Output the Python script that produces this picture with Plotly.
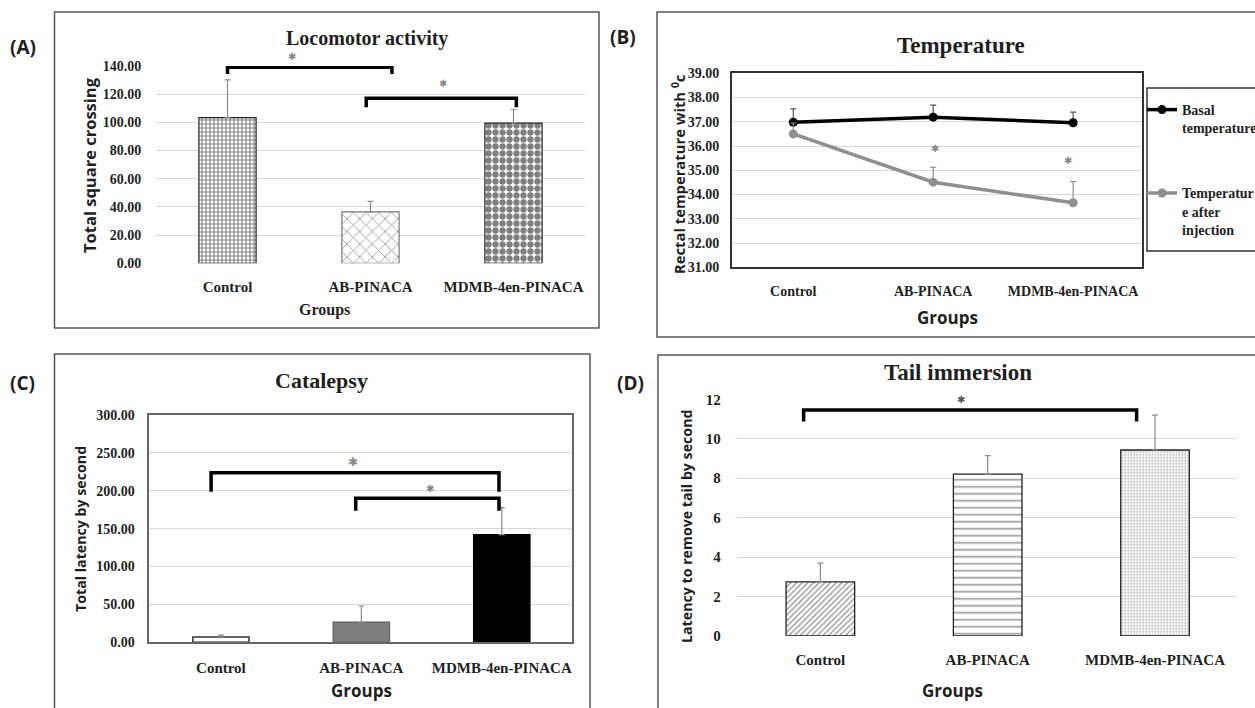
import plotly.graph_objects as go

W, H = 1255, 708

# ---------------- data ----------------
groups = ["Control", "AB-PINACA", "MDMB-4en-PINACA"]
xpos = [0, 1, 2]

# (A) Locomotor activity
loco_mean = [103.3, 36.5, 99.4]
loco_err = [26.8, 7.4, 9.9]
loco_tick = [0, 20, 40, 60, 80, 100, 120, 140]
loco_br_x0 = [0.0, 0.97]
loco_br_x1 = [1.15, 2.02]
loco_br_top = [139.1, 117.1]
loco_br_leg = [134.3, 110.7]
loco_star_x = [0.45, 1.51]
loco_star_y = [146.6, 127.7]

# (B) Temperature
basal_mean = [36.98, 37.19, 36.96]
basal_err = [0.55, 0.50, 0.44]
after_mean = [36.50, 34.51, 33.66]
after_err = [0.45, 0.61, 0.87]
temp_tick = [31, 32, 33, 34, 35, 36, 37, 38, 39]
temp_star_x = [1.01, 1.96]
temp_star_y = [35.91, 35.42]

# (C) Catalepsy
cata_mean = [7.0, 26.4, 142.0]
cata_err = [2.6, 21.5, 35.7]
cata_tick = [0, 50, 100, 150, 200, 250, 300]
cata_br_x0 = [-0.07, 0.96]
cata_br_x1 = [1.98, 1.98]
cata_br_top = [223.8, 190.0]
cata_br_leg = [198.8, 173.7]
cata_star_x = [0.94, 1.49]
cata_star_y = [238.4, 202.7]

# (D) Tail immersion
tail_mean = [2.74, 8.21, 9.43]
tail_err = [0.95, 0.93, 1.77]
tail_tick = [0, 2, 4, 6, 8, 10, 12]
tail_br_x0 = [-0.10]
tail_br_x1 = [1.89]
tail_br_top = [11.46]
tail_br_leg = [10.87]
tail_star_x = [0.84]
tail_star_y = [12.0]

# ---------------- styles ----------------
SERIF = "Liberation Serif"
SANS = "Open Sans"
TXT = "#1f1f1f"
GRID = "#d9d9d9"
ERRC = "#8a8a8a"

YR_A = [0, 140]
YR_B = [31, 39]
YR_C = [0, 300]
YR_D = [0, 12]


def px(x):
    return x / W


def py(y):
    return 1 - y / H


def bracket_xy(x0s, x1s, tops, legs):
    xs, ys = [], []
    for a, b, t, l in zip(x0s, x1s, tops, legs):
        xs += [a, a, b, b, None]
        ys += [l, t, t, l, None]
    return xs, ys


fig = go.Figure()
ann = []


def stars(xs, ys, xr, yr, rng, size=10, color="#888"):
    # y placed in the axis' domain fraction so marks above the range stay visible
    for sx, sy in zip(xs, ys):
        ann.append(dict(x=sx, y=(sy - rng[0]) / (rng[1] - rng[0]), xref=xr, yref=yr + " domain",
                        text="✱", showarrow=False, xanchor="center", yanchor="middle",
                        font=dict(family="DejaVu Sans", size=size, color=color)))


# ---- A ----
fig.add_trace(go.Bar(
    x=xpos, y=loco_mean, width=0.4, xaxis="x", yaxis="y", showlegend=False,
    marker=dict(color="white",
                line=dict(color=["#222", "#777", "#222"], width=1.2),
                pattern=dict(shape=["+", "x", "."], size=[4, 9, 7],
                             solidity=[0.48, 0.2, 0.64],
                             fgcolor=["#000", "#444", "#000"], bgcolor="white")),
    error_y=dict(type="data", symmetric=False, array=loco_err, arrayminus=[0, 0, 0],
                 color=ERRC, thickness=1.2, width=3),
))
bx, by = bracket_xy(loco_br_x0, loco_br_x1, loco_br_top, loco_br_leg)
fig.add_trace(go.Scatter(x=bx, y=by, mode="lines", xaxis="x", yaxis="y", showlegend=False,
                         line=dict(color="black", width=3.5), cliponaxis=False, hoverinfo="skip"))
stars(loco_star_x, loco_star_y, "x", "y", YR_A)

# ---- B ----
fig.add_trace(go.Scatter(
    x=xpos, y=basal_mean, mode="lines+markers", name="Basal<br>temperature",
    xaxis="x2", yaxis="y2", line=dict(color="black", width=3.5),
    marker=dict(size=9, color="black"),
    error_y=dict(type="data", symmetric=False, array=basal_err, arrayminus=[0, 0, 0],
                 color="#555", thickness=1.2, width=3),
))
fig.add_trace(go.Scatter(
    x=xpos, y=after_mean, mode="lines+markers", name="Temperatur<br>e after<br>injection",
    xaxis="x2", yaxis="y2", line=dict(color="#8f8f8f", width=3.5),
    marker=dict(size=9, color="#8f8f8f"), legendgroup="g2",
    error_y=dict(type="data", symmetric=False, array=after_err, arrayminus=[0, 0, 0],
                 color="#8f8f8f", thickness=1.2, width=3),
))
stars(temp_star_x, temp_star_y, "x2", "y2", YR_B)

# ---- C ----
fig.add_trace(go.Bar(
    x=xpos, y=cata_mean, width=0.4, xaxis="x3", yaxis="y3", showlegend=False,
    marker=dict(color=["white", "#7f7f7f", "#000000"],
                line=dict(color=["#333", "#666", "#000"], width=1.5)),
    error_y=dict(type="data", symmetric=False, array=cata_err, arrayminus=[0, 0, 0],
                 color=ERRC, thickness=1.2, width=3),
))
bx, by = bracket_xy(cata_br_x0, cata_br_x1, cata_br_top, cata_br_leg)
fig.add_trace(go.Scatter(x=bx, y=by, mode="lines", xaxis="x3", yaxis="y3", showlegend=False,
                         line=dict(color="black", width=3.5), cliponaxis=False, hoverinfo="skip"))
stars(cata_star_x[:1], cata_star_y[:1], "x3", "y3", YR_C, size=12)
stars(cata_star_x[1:], cata_star_y[1:], "x3", "y3", YR_C, size=10)

# ---- D ----
fig.add_trace(go.Bar(
    x=xpos, y=tail_mean, width=0.41, xaxis="x4", yaxis="y4", showlegend=False,
    marker=dict(color="white", line=dict(color="#222", width=1.3),
                pattern=dict(shape=["/", "-", "."], size=[4, 7, 3],
                             solidity=[0.32, 0.22, 0.3],
                             fgcolor=["#222", "#222", "#555"], bgcolor="white")),
    error_y=dict(type="data", symmetric=False, array=tail_err, arrayminus=[0, 0, 0],
                 color=ERRC, thickness=1.2, width=3),
))
bx, by = bracket_xy(tail_br_x0, tail_br_x1, tail_br_top, tail_br_leg)
fig.add_trace(go.Scatter(x=bx, y=by, mode="lines", xaxis="x4", yaxis="y4", showlegend=False,
                         line=dict(color="black", width=3.5), cliponaxis=False, hoverinfo="skip"))
stars(tail_star_x, tail_star_y, "x4", "y4", YR_D, color="#555")

# ---------------- axes ----------------
xt = dict(family=SERIF, size=15, color=TXT, weight="bold")
yt = dict(family=SERIF, size=14, color=TXT, weight="bold")


def xax(dom, rng, anchor, ticklen, **kw):
    d = dict(domain=dom, range=rng, anchor=anchor, tickmode="array", tickvals=xpos,
             ticktext=groups, showgrid=False, zeroline=False, ticks="outside",
             ticklen=ticklen, tickcolor="rgba(0,0,0,0)", tickfont=xt, fixedrange=True)
    d.update(kw)
    return d


def yax(dom, rng, anchor, vals, fmt, ticklen, **kw):
    d = dict(domain=dom, range=rng, anchor=anchor, tickmode="array", tickvals=vals,
             tickformat=fmt, showgrid=True, gridcolor=GRID, gridwidth=1, zeroline=False,
             ticks="outside", ticklen=ticklen, tickcolor="rgba(0,0,0,0)", tickfont=yt,
             fixedrange=True)
    d.update(kw)
    return d


fig.update_layout(
    xaxis=xax([px(156), px(585)], [-0.5, 2.5], "y", 10),
    yaxis=yax([py(263.3), py(66)], YR_A, "x", loco_tick, ".2f", 11),
    xaxis2=xax([px(731.7), px(1141.7)], [-0.44, 2.49], "y2", 10,
               showline=True, linecolor="#333", linewidth=1.5, mirror=True,
               tickfont=dict(family=SERIF, size=14, color=TXT, weight="bold")),
    yaxis2=yax([py(267.3), py(73.3)], YR_B, "x2", temp_tick, ".2f", 8,
               showline=True, linecolor="#333", linewidth=1.5, mirror=True),
    xaxis3=xax([px(149.3), px(572)], [-0.51, 2.5], "y3", 11,
               showline=True, linecolor="#666", linewidth=1.5, mirror=True),
    yaxis3=yax([py(642.3), py(415)], YR_C, "x3", cata_tick, ".2f", 10,
               showline=True, linecolor="#666", linewidth=1.5, mirror=True),
    xaxis4=xax([px(736.7), px(1237)], [-0.5, 2.49], "y4", 10),
    yaxis4=yax([py(636), py(399.3)], YR_D, "x4", tail_tick, "d", 12,
               tickfont=dict(family=SERIF, size=15, color=TXT, weight="bold")),
)

# ---------------- text ----------------


def text(x, y, s, family, size, angle=0, weight="bold", color=TXT):
    ann.append(dict(x=px(x), y=py(y), xref="paper", yref="paper", text=s, showarrow=False,
                    xanchor="center", yanchor="middle", textangle=angle,
                    font=dict(family=family, size=size, color=color, weight=weight)))


# panel letters
text(23, 47, "(A)", SANS, 19)
text(623, 37, "(B)", SANS, 19)
text(23, 383, "(C)", SANS, 19)
text(630, 383, "(D)", SANS, 19)
# titles
text(367, 38, "Locomotor activity", SERIF, 20)
text(961, 45, "Temperature", SERIF, 23)
text(321, 380, "Catalepsy", SERIF, 22)
text(958, 372, "Tail immersion", SERIF, 23)
# x titles
text(324, 310, "Groups", SERIF, 16)
text(947, 317, "Groups", SANS, 17)
text(361, 690, "Groups", SANS, 17)
text(952, 690, "Groups", SANS, 17)
# y titles
text(89, 165, "Total square crossing", SANS, 16.5, -90)
text(678, 174, "Rectal temperature with <sup>0</sup>c", SANS, 14.8, -90)
text(80, 529, "Total latency by second", SANS, 14.2, -90)
text(686, 527, "Latency to remove tail by second", SANS, 14.2, -90)

# panel frames
shapes = []
for (x0, y0, x1, y1, c) in [(54.5, 12, 599, 328, "#555"), (657, 12, 1262, 337, "#555"),
                            (54.5, 354, 590, 715, "#555"), (658, 355, 1262, 715, "#555"),
                            (1147, 88, 1262, 251, "#333")]:
    shapes.append(dict(type="rect", xref="paper", yref="paper", x0=px(x0), x1=px(x1),
                       y0=py(y1), y1=py(y0), line=dict(color=c, width=1.5),
                       fillcolor="rgba(0,0,0,0)", layer="below"))

fig.update_layout(
    width=W, height=H, autosize=False,
    margin=dict(l=0, r=0, t=0, b=0, pad=0, autoexpand=False),
    paper_bgcolor="white", plot_bgcolor="white",
    annotations=ann, shapes=shapes,
    legend=dict(x=px(1142), y=py(94), xanchor="left", yanchor="top", valign="top",
                bgcolor="rgba(0,0,0,0)", borderwidth=0, tracegroupgap=44, itemwidth=30,
                font=dict(family=SERIF, size=14, color=TXT, weight="bold")),
    bargap=0.6,
)

fig.write_html("out.html", config={"displayModeBar": False},
               post_script="document.body.style.margin='0';document.body.style.overflow='hidden';")
